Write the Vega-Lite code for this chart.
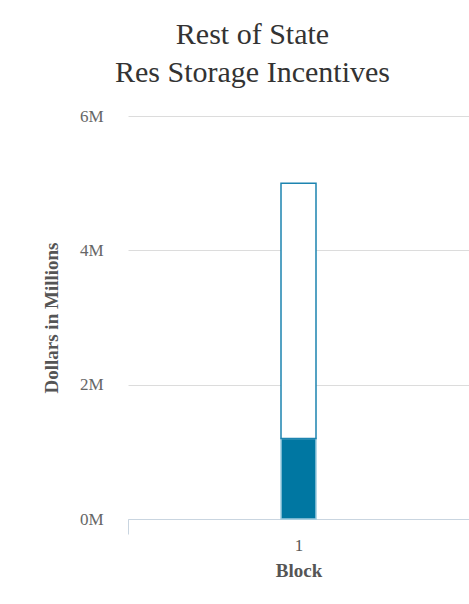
{
  "$schema": "https://vega.github.io/schema/vega-lite/v6.json",
  "width": 341,
  "height": 403,
  "autosize": {"type": "none"},
  "padding": {"left": 128, "top": 116, "right": 0, "bottom": 85},
  "background": "#ffffff",
  "title": {
    "text": ["Rest of State", "Res Storage Incentives"],
    "anchor": "middle",
    "frame": "group",
    "dx": -46,
    "offset": 19,
    "font": "'Liberation Serif', 'DejaVu Serif', serif",
    "fontSize": 30,
    "fontWeight": "normal",
    "lineHeight": 38,
    "color": "#333333"
  },
  "data": {
    "values": [
      {"block": "1", "part": "Spent", "amount": 1200000, "rank": 1},
      {"block": "1", "part": "Remaining", "amount": 3800000, "rank": 2}
    ]
  },
  "mark": {"type": "bar", "width": 35, "strokeWidth": 1.5},
  "encoding": {
    "x": {
      "field": "block",
      "type": "nominal",
      "title": "Block",
      "scale": {"paddingInner": 0, "paddingOuter": 0},
      "axis": {
        "labelAngle": 0,
        "tickBand": "extent",
        "tickSize": 15,
        "tickColor": "#c9d5e0",
        "domainColor": "#c9d5e0",
        "labelPadding": 3,
        "labelFont": "'Liberation Serif', 'DejaVu Serif', serif",
        "labelFontSize": 17,
        "labelColor": "#555555",
        "titleFont": "'Liberation Serif', 'DejaVu Serif', serif",
        "titleFontSize": 19,
        "titleFontWeight": "bold",
        "titleColor": "#555555",
        "titlePadding": 8
      }
    },
    "y": {
      "field": "amount",
      "type": "quantitative",
      "stack": "zero",
      "title": "Dollars in Millions",
      "scale": {"domain": [0, 6000000], "nice": false},
      "axis": {
        "values": [0, 2000000, 4000000, 6000000],
        "labelExpr": "datum.value / 1000000 + 'M'",
        "domain": false,
        "ticks": false,
        "gridColor": "#dcdcdc",
        "labelPadding": 25,
        "labelFont": "'Liberation Serif', 'DejaVu Serif', serif",
        "labelFontSize": 17,
        "labelColor": "#666666",
        "titleFont": "'Liberation Serif', 'DejaVu Serif', serif",
        "titleFontSize": 19,
        "titleFontWeight": "bold",
        "titleColor": "#555555",
        "titlePadding": 18
      }
    },
    "order": {"field": "rank"},
    "fill": {
      "field": "part",
      "type": "nominal",
      "scale": {"domain": ["Spent", "Remaining"], "range": ["#0077a2", "#ffffff"]},
      "legend": null
    },
    "stroke": {
      "field": "part",
      "type": "nominal",
      "scale": {"domain": ["Spent", "Remaining"], "range": ["#9ccbe0", "#1d84b0"]},
      "legend": null
    }
  },
  "config": {
    "view": {"stroke": null}
  }
}
